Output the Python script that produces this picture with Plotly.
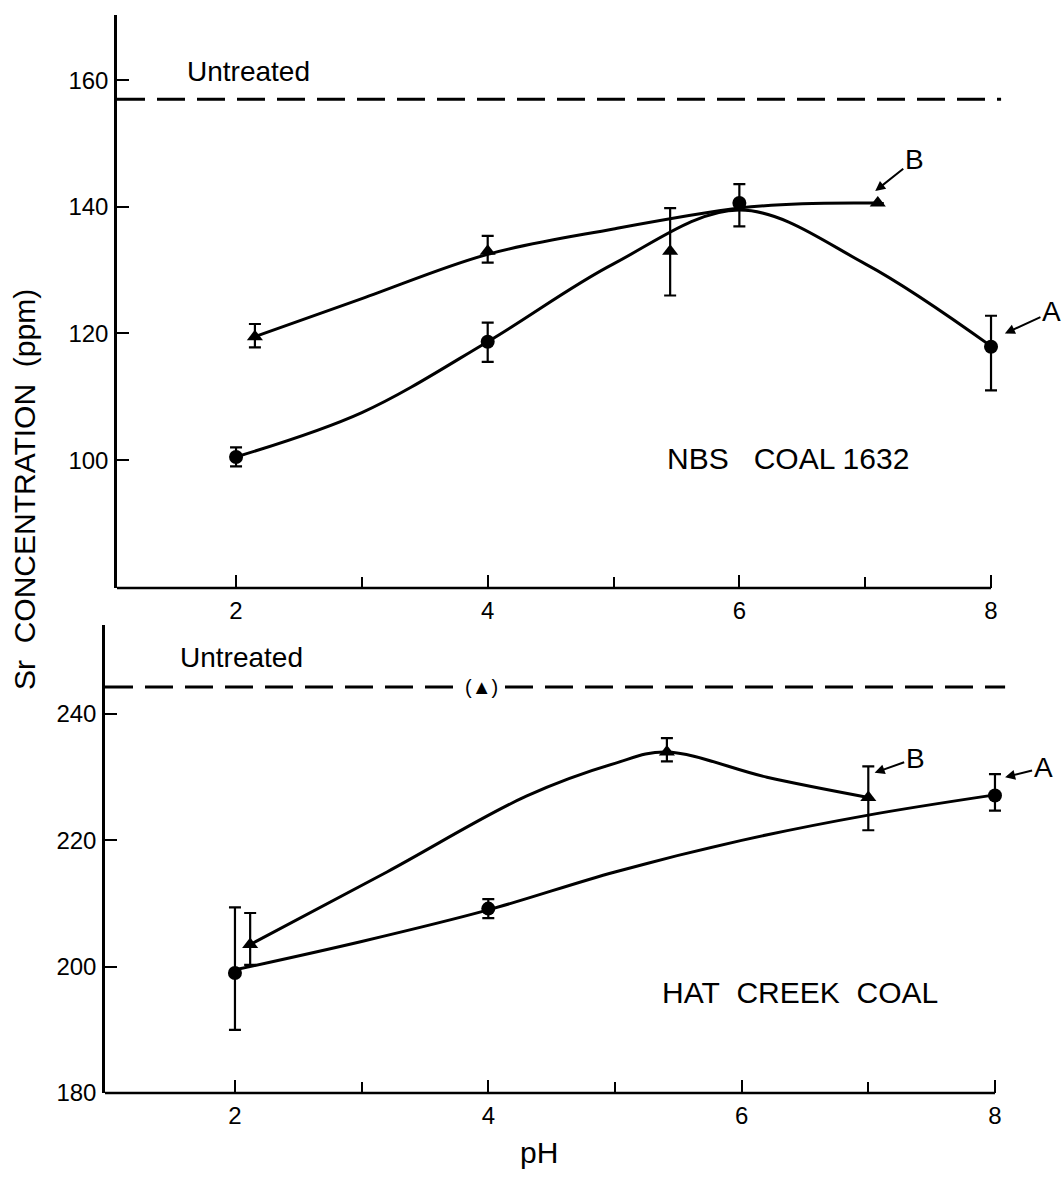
import plotly.graph_objects as go

# ---------------- data ----------------
# NBS Coal 1632 (top panel)
nbs_A_ph = [2, 4, 6, 8]
nbs_A_sr = [100.5, 118.7, 140.6, 117.9]
nbs_A_err_plus = [1.5, 3.0, 3.0, 4.9]
nbs_A_err_minus = [1.5, 3.2, 3.7, 6.9]

nbs_B_ph = [2.15, 4.0, 5.45, 7.1]
nbs_B_sr = [119.5, 133.0, 133.0, 140.6]
nbs_B_err_plus = [2.0, 2.4, 6.8, 0]
nbs_B_err_minus = [1.7, 1.8, 7.0, 0]

# fitted (hand-drawn) curves
nbs_A_curve_ph = [2, 3, 4, 5, 6, 7, 8]
nbs_A_curve_sr = [100.5, 107.5, 118.7, 131.0, 139.5, 131.0, 118.0]
nbs_B_curve_ph = [2.15, 3.0, 4.0, 5.0, 6.0, 6.5, 7.1]
nbs_B_curve_sr = [119.5, 125.5, 132.5, 136.5, 139.8, 140.5, 140.6]

nbs_untreated = 157.0

# Hat Creek Coal (bottom panel)
hc_A_ph = [2, 4, 8]
hc_A_sr = [199.0, 209.2, 227.1]
hc_A_err_plus = [10.4, 1.5, 3.4]
hc_A_err_minus = [9.0, 1.5, 2.4]

hc_B_ph = [2.12, 5.41, 7.0]
hc_B_sr = [203.5, 234.0, 226.8]
hc_B_err_plus = [5.0, 2.2, 4.9]
hc_B_err_minus = [3.2, 1.5, 5.2]

hc_A_curve_ph = [2, 3, 4, 5, 6, 7, 8]
hc_A_curve_sr = [199.5, 204.0, 209.0, 215.0, 220.0, 224.0, 227.2]
hc_B_curve_ph = [2.12, 3.2, 4.3, 5.0, 5.4, 6.2, 7.0]
hc_B_curve_sr = [203.5, 215.0, 227.0, 232.2, 234.0, 230.0, 226.8]

hc_untreated = 244.3
hc_untreated_marker_ph = 3.95

nbs_x_range = [1.054, 8.58]
hc_x_range = [0.974, 8.545]
nbs_y_range = [79.8, 170.3]
hc_y_range = [180, 254.1]
untreated_end_ph = 8.08

x_ticks = [2, 4, 6, 8]
x_minor_ticks = [3, 5, 7]
x_axis_end = 8
nbs_y_ticks = [100, 120, 140, 160]
hc_y_ticks = [180, 200, 220, 240]

# ---------------- figure ----------------
FONT = "Liberation Sans"
BLACK = "black"
fig = go.Figure()


def add_panel(xa, ya, xr, curveA, curveB, ptsA, ptsB, untreated):
    for cx, cy in (curveA, curveB):
        fig.add_trace(go.Scatter(x=cx, y=cy, mode="lines", xaxis=xa, yaxis=ya,
                                 line=dict(color=BLACK, width=3, shape="spline", smoothing=1.0),
                                 hoverinfo="skip", showlegend=False, cliponaxis=False))
    fig.add_trace(go.Scatter(x=[xr[0], untreated_end_ph], y=[untreated, untreated], mode="lines",
                             xaxis=xa, yaxis=ya,
                             line=dict(color=BLACK, width=3, dash="28px,12px"),
                             hoverinfo="skip", showlegend=False, cliponaxis=False))
    for (px, py, ep, em), sym in ((ptsA, "circle"), (ptsB, "triangle-up")):
        fig.add_trace(go.Scatter(x=px, y=py, mode="markers", xaxis=xa, yaxis=ya,
                                 marker=dict(symbol=sym, size=14, color=BLACK),
                                 error_y=dict(type="data", symmetric=False, array=ep, arrayminus=em,
                                              color=BLACK, thickness=2.2, width=6),
                                 showlegend=False, cliponaxis=False))


add_panel("x", "y", nbs_x_range, (nbs_A_curve_ph, nbs_A_curve_sr), (nbs_B_curve_ph, nbs_B_curve_sr),
          (nbs_A_ph, nbs_A_sr, nbs_A_err_plus, nbs_A_err_minus),
          (nbs_B_ph, nbs_B_sr, nbs_B_err_plus, nbs_B_err_minus), nbs_untreated)
add_panel("x2", "y2", hc_x_range, (hc_A_curve_ph, hc_A_curve_sr), (hc_B_curve_ph, hc_B_curve_sr),
          (hc_A_ph, hc_A_sr, hc_A_err_plus, hc_A_err_minus),
          (hc_B_ph, hc_B_sr, hc_B_err_plus, hc_B_err_minus), hc_untreated)

W, H = 1064, 1177


def xaxis(domain_px, rng, anchor):
    return dict(domain=[domain_px[0] / W, domain_px[1] / W], range=rng, anchor=anchor,
                showgrid=False, zeroline=False, showline=False,
                ticks="inside", ticklen=13, tickwidth=2, tickcolor=BLACK,
                tickvals=x_ticks, ticktext=[str(v) for v in x_ticks],
                minor=dict(ticks="inside", ticklen=11, tickwidth=2, tickcolor=BLACK,
                           tickvals=x_minor_ticks),
                tickfont=dict(family=FONT, size=24, color=BLACK), ticklabelstandoff=6)


def yaxis(domain_px, rng, anchor, ticks):
    return dict(domain=[1 - domain_px[1] / H, 1 - domain_px[0] / H], range=rng, anchor=anchor,
                showgrid=False, zeroline=False, showline=True, linecolor=BLACK, linewidth=2.5,
                ticks="inside", ticklen=12, tickwidth=2, tickcolor=BLACK,
                tickvals=ticks, ticktext=[str(v) for v in ticks],
                tickfont=dict(family=FONT, size=24, color=BLACK), ticklabelstandoff=1)


shapes = [
    dict(type="line", xref="x", yref="y domain", x0=nbs_x_range[0], x1=x_axis_end, y0=0, y1=0,
         line=dict(color=BLACK, width=2.5)),
    dict(type="line", xref="x2", yref="y2 domain", x0=hc_x_range[0], x1=x_axis_end, y0=0, y1=0,
         line=dict(color=BLACK, width=2.5)),
]

LBL = dict(family=FONT, size=28, color=BLACK)
annotations = [
    dict(x=2.1, y=161.3, xref="x", yref="y", text="Untreated", showarrow=False, font=LBL),
    dict(x=6.39, y=100.2, xref="x", yref="y", text="NBS&nbsp;&nbsp;&nbsp;COAL 1632", showarrow=False,
         font=dict(family=FONT, size=30, color=BLACK)),
    dict(x=8.11, y=120.0, xref="x", yref="y", ax=8.48, ay=123.4, axref="x", ayref="y",
         text="A", showarrow=True, arrowhead=2, arrowsize=1, arrowwidth=2, arrowcolor=BLACK, font=LBL),
    dict(x=7.08, y=142.5, xref="x", yref="y", ax=7.39, ay=147.4, axref="x", ayref="y",
         text="B", showarrow=True, arrowhead=2, arrowsize=1, arrowwidth=2, arrowcolor=BLACK, font=LBL),
    dict(x=2.05, y=248.9, xref="x2", yref="y2", text="Untreated", showarrow=False, font=LBL),
    dict(x=hc_untreated_marker_ph, y=hc_untreated, xref="x2", yref="y2", text="(▲)", showarrow=False,
         bgcolor="white", font=dict(family=FONT, size=20, color=BLACK)),
    dict(x=6.46, y=195.9, xref="x2", yref="y2", text="HAT&nbsp;&nbsp;CREEK&nbsp;&nbsp;COAL", showarrow=False,
         font=dict(family=FONT, size=30, color=BLACK)),
    dict(x=7.05, y=230.7, xref="x2", yref="y2", ax=7.37, ay=233.0, axref="x2", ayref="y2",
         text="B", showarrow=True, arrowhead=2, arrowsize=1, arrowwidth=2, arrowcolor=BLACK, font=LBL),
    dict(x=8.08, y=230.0, xref="x2", yref="y2", ax=8.38, ay=231.5, axref="x2", ayref="y2",
         text="A", showarrow=True, arrowhead=2, arrowsize=1, arrowwidth=2, arrowcolor=BLACK, font=LBL),
    dict(x=24 / W, y=1 - 490 / H, xref="paper", yref="paper", xanchor="center", yanchor="middle",
         text="Sr&nbsp;&nbsp;CONCENTRATION&nbsp;&nbsp;(ppm)", textangle=-90, showarrow=False,
         font=dict(family=FONT, size=30, color=BLACK)),
    dict(x=539 / W, y=1 - 1152 / H, xref="paper", yref="paper", xanchor="center", yanchor="middle",
         text="pH", showarrow=False, font=dict(family=FONT, size=30, color=BLACK)),
]

fig.update_layout(
    width=W, height=H,
    margin=dict(l=0, r=0, t=0, b=0, autoexpand=False),
    paper_bgcolor="white", plot_bgcolor="white",
    showlegend=False,
    xaxis=xaxis((117, 1064), nbs_x_range, "y"),
    yaxis=yaxis((15, 588), nbs_y_range, "x", nbs_y_ticks),
    xaxis2=xaxis((105, 1064), hc_x_range, "y2"),
    yaxis2=yaxis((625, 1093), hc_y_range, "x2", hc_y_ticks),
    shapes=shapes,
    annotations=annotations,
)

fig.write_html("out.html")
